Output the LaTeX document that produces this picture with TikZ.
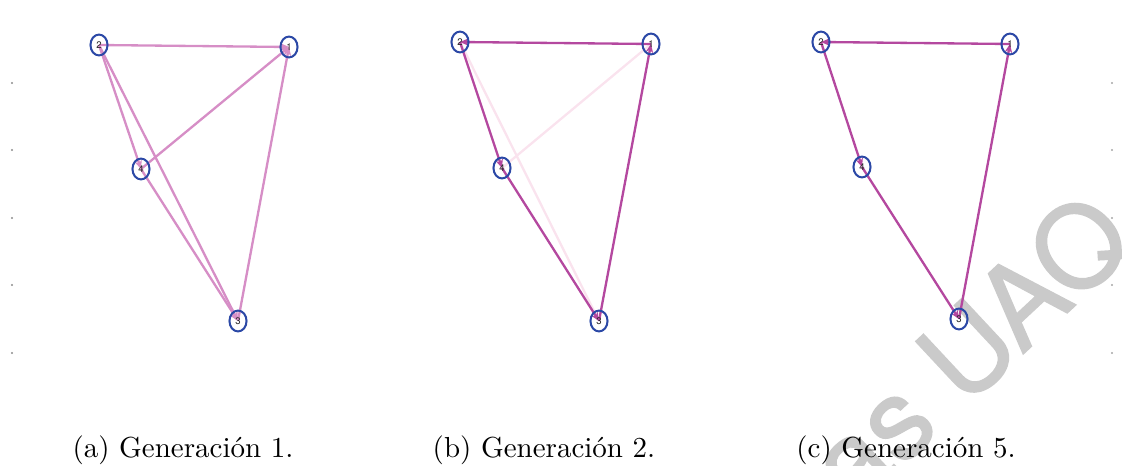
\documentclass[tikz,border=0pt]{standalone}
\usepackage{fontspec}
\newfontfamily\wmfont{TeX Gyre Heros}
\newfontfamily\wmheavy[FakeBold=1.3]{TeX Gyre Heros}
\usetikzlibrary{positioning,arrows.meta,shapes.geometric,backgrounds}
\definecolor{nodeblue}{HTML}{2B48A6}
\definecolor{edgepink}{HTML}{D68EC6}
\definecolor{edgemag}{HTML}{B4489F}
\definecolor{edgefaint}{HTML}{FAE3EE}
\definecolor{wmgray}{HTML}{CACACA}

\begin{document}
\begin{tikzpicture}[
    x=0.345pt, y=-0.345pt,
    vert/.style={draw=nodeblue, line width=0.7pt, ellipse, minimum width=5.9pt, minimum height=7.2pt, inner sep=0pt, font=\wmfont\fontsize{3.3}{3.3}\selectfont, text=black!85},
    arc/.style={-{Stealth[length=3pt,width=2.6pt]}, line width=0.8pt},
    weak/.style={arc, edgepink},
    strong/.style={arc, edgemag},
    faint/.style={line width=0.8pt, edgefaint},
    capt/.style={anchor=base, font=\normalsize},
    wmark/.style={rotate=43, font=\wmheavy\fontsize{39}{39}\selectfont, text=wmgray}
]
\useasboundingbox (0,0) rectangle (1122,466);

% (a) Generacion 1
\node[vert] (a2) at (99,45)   {2};
\node[vert] (a1) at (289,47)  {1};
\node[vert] (a4) at (141,169) {4};
\node[vert] (a3) at (238,321) {3};

% (b) Generacion 2
\node[vert] (b2) at (460,42)  {2};
\node[vert] (b1) at (651,44)  {1};
\node[vert] (b4) at (502,168) {4};
\node[vert] (b3) at (599,321) {3};

% (c) Generacion 5
\node[vert] (c2) at (821,42)  {2};
\node[vert] (c1) at (1010,44) {1};
\node[vert] (c4) at (862,167) {4};
\node[vert] (c3) at (959,319) {3};

\node[capt] (capa) at (183,457) {(a) Generación 1.};
\node[capt] (capb) at (544,457) {(b) Generación 2.};
\node[capt] (capc) at (906,457) {(c) Generación 5.};

\begin{scope}[on background layer]
  \begin{scope}
    \clip (0,0) rectangle (1122,466);
    \node[wmark] (wm) at (970,350) {as UAQ};
  \end{scope}
  \foreach \yy in {83,150,218,285,353} {
    \fill[black!45] (12,\yy) circle (0.4pt);
    \fill[black!35] (1112,\yy) circle (0.35pt);
  }
  % edges
  \draw[weak] (a2.center) -- (a1.center);
  \draw[weak] (a4.center) -- (a1.center);
  \draw[weak] (a3.center) -- (a1.center);
  \draw[weak] (a2.center) -- (a4.center);
  \draw[weak] (a2.center) -- (a3.center);
  \draw[weak] (a4.center) -- (a3.center);

  \draw[faint] (b2.center) -- (b3.center);
  \draw[faint] (b4.center) -- (b1.center);
  \draw[strong] (b1.center) -- (b2.center);
  \draw[strong] (b2.center) -- (b4.center);
  \draw[strong] (b4.center) -- (b3.center);
  \draw[strong] (b3.center) -- (b1.center);

  \draw[strong] (c1.center) -- (c2.center);
  \draw[strong] (c2.center) -- (c4.center);
  \draw[strong] (c4.center) -- (c3.center);
  \draw[strong] (c3.center) -- (c1.center);
\end{scope}

\end{tikzpicture}
\end{document}
